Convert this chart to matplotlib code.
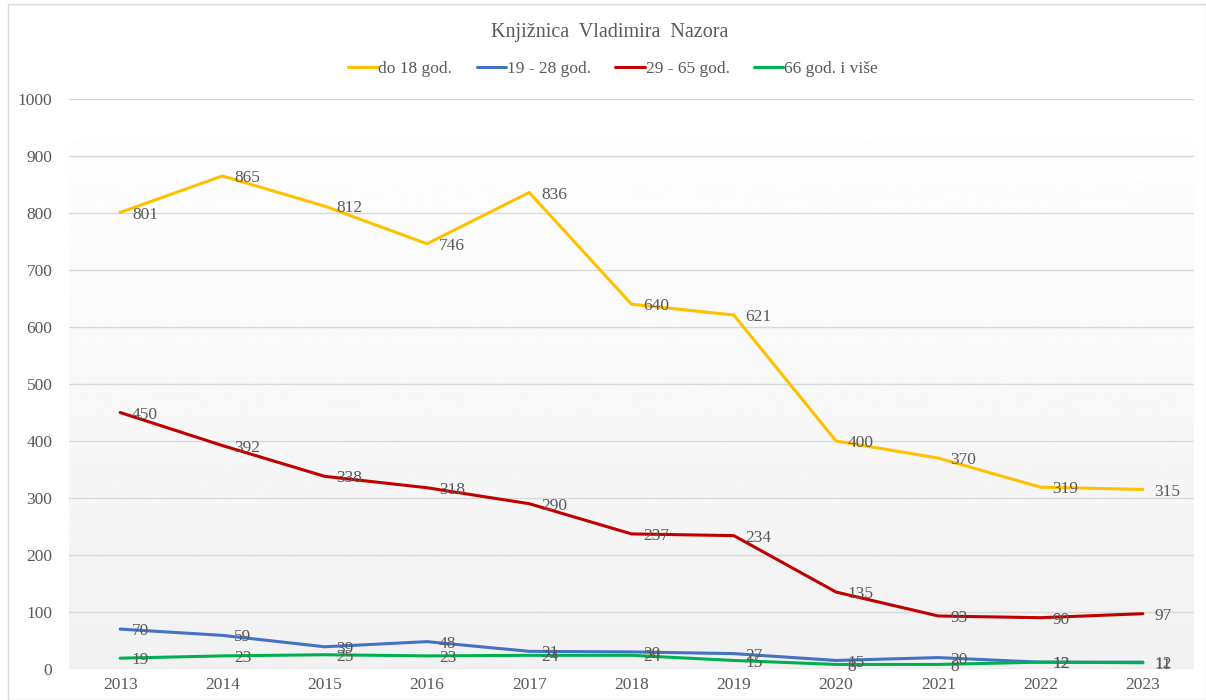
import numpy as np
import matplotlib.pyplot as plt
from matplotlib.patches import Rectangle

years = ['2013', '2014', '2015', '2016', '2017', '2018', '2019', '2020', '2021', '2022', '2023']
do_18 = [801, 865, 812, 746, 836, 640, 621, 400, 370, 319, 315]
od_19_28 = [70, 59, 39, 48, 31, 30, 27, 15, 20, 12, 12]
od_29_65 = [450, 392, 338, 318, 290, 237, 234, 135, 93, 90, 97]
od_66 = [19, 23, 25, 23, 24, 24, 15, 8, 8, 12, 11]

series = [
    ('do 18 god.', do_18, '#FFC000'),
    ('19 - 28 god.', od_19_28, '#4472C4'),
    ('29 - 65 god.', od_29_65, '#C00000'),
    ('66 god. i više', od_66, '#00B050'),
]

plt.rcParams['font.family'] = ['Liberation Serif', 'DejaVu Serif']
text_col = '#595959'

fig = plt.figure(figsize=(12.06, 7), dpi=100)
ax = fig.add_axes([69 / 1206, 1 - 669 / 700, (1194 - 69) / 1206, (669 - 99) / 700])

x = np.arange(len(years))

# background gradient, white at top to light grey at bottom
grad = np.linspace(1.0, 0.945, 256).reshape(-1, 1)
ax.imshow(grad, cmap='gray', vmin=0, vmax=1, aspect='auto', origin='upper',
          extent=(-0.5, len(years) - 0.5, 0, 1000), zorder=0)
ax.set_xlim(-0.5, len(years) - 0.5)
ax.set_ylim(0, 1000)

for yv in range(0, 1001, 100):
    ax.axhline(yv, color='#d9d9d9', lw=1, zorder=1)

for name, vals, col in series:
    ax.plot(x, vals, color=col, lw=2.2, label=name, zorder=3, solid_capstyle='round')
    for xi, v in zip(x, vals):
        ax.annotate(str(v), (xi, v), xytext=(8.5, -1.5), textcoords='offset points',
                    ha='left', va='center', fontsize=12.5, color=text_col, zorder=4)

ax.set_xticks(x)
ax.set_xticklabels(years)
ax.set_yticks(range(0, 1001, 100))
ax.tick_params(length=0, labelsize=12.5, colors=text_col, pad=12)
ax.tick_params(axis='x', pad=6)
for s in ax.spines.values():
    s.set_visible(False)

fig.text(610 / 1206, 1 - 33 / 700, 'Knjižnica  Vladimira  Nazora', ha='center', va='center',
         fontsize=14.5, color=text_col)
fig.legend(loc='center', bbox_to_anchor=(613 / 1206, 1 - 69 / 700), ncol=4, frameon=False,
           fontsize=12.5, labelcolor=text_col, handlelength=1.7, handletextpad=0.05,
           columnspacing=1.4)

fig.patches.append(Rectangle((8 / 1206, 0), 1 - 8 / 1206, 1 - 4 / 700, transform=fig.transFigure,
                             fill=False, edgecolor='#d9d9d9', lw=1))

fig.savefig('out.png', dpi=100)
